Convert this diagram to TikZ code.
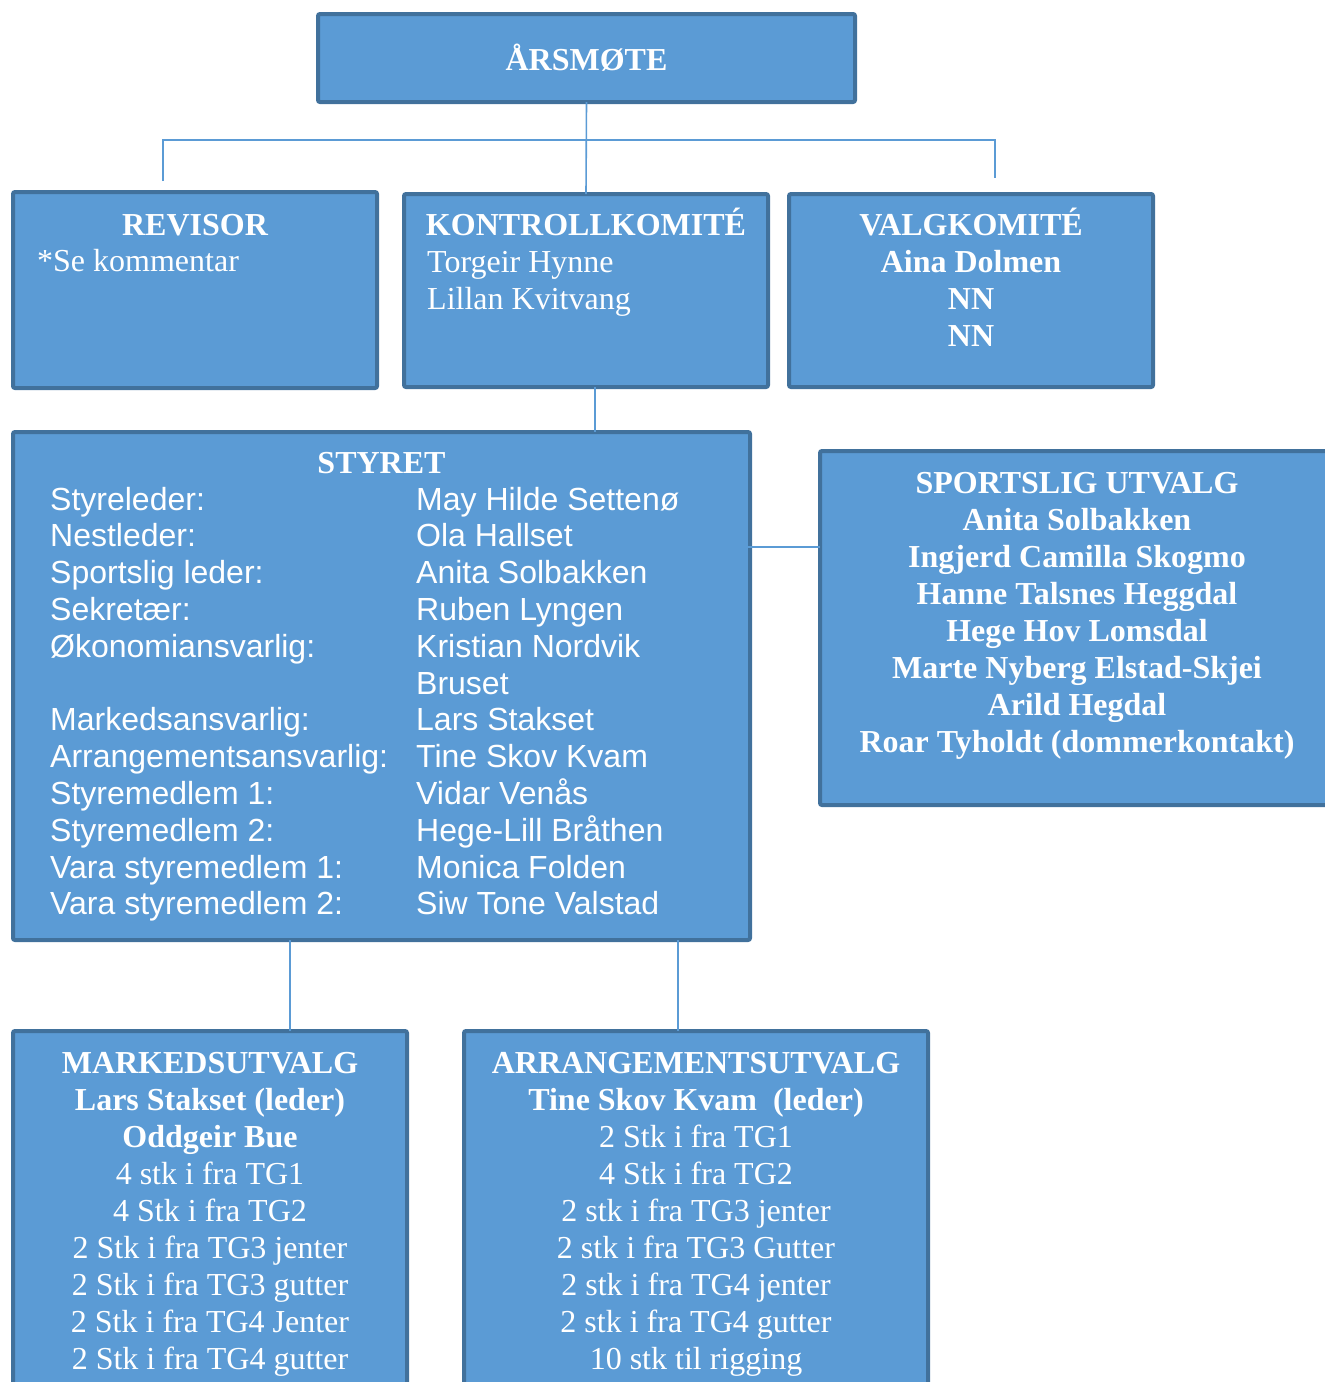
\documentclass[tikz,border=0pt]{standalone}
\usepackage{fontspec}
\setmainfont{Liberation Serif}
\setsansfont{Liberation Sans}
\usetikzlibrary{positioning}
\definecolor{boxfill}{HTML}{5B9BD5}
\definecolor{boxline}{HTML}{41719C}
\definecolor{linkcol}{HTML}{5B9BD5}
\newcommand{\orgsize}{\fontsize{32}{37}\selectfont}

\begin{document}
\begin{tikzpicture}[x=1pt,y=-1pt,
    orgbox/.style={draw=boxline,line width=4pt,fill=boxfill,rounded corners=2pt,
      anchor=north west,inner sep=0pt,outer sep=0pt},
    link/.style={draw=linkcol,line width=1.6pt},
    head/.style={text=white,inner sep=0pt,anchor=base,font=\orgsize\rmfamily\bfseries},
    plain/.style={text=white,inner sep=0pt,anchor=base,font=\orgsize\rmfamily},
    role/.style={text=white,inner sep=0pt,anchor=base west,font=\orgsize\sffamily}]
  \clip (0,0) rectangle (1325,1382);

  % Boxes
  \node[orgbox,minimum width=537pt,minimum height=88pt] (arsmote) at (318,14) {};
  \node[orgbox,minimum width=364pt,minimum height=196pt] (revisor) at (13,192) {};
  \node[orgbox,minimum width=364pt,minimum height=193pt] (kontroll) at (404,194) {};
  \node[orgbox,minimum width=364pt,minimum height=193pt] (valg) at (789,194) {};
  \node[orgbox,minimum width=737pt,minimum height=508pt] (styret) at (13,432) {};
  \node[orgbox,minimum width=514pt,minimum height=354pt] (sport) at (820,451) {};
  \node[orgbox,minimum width=394pt,minimum height=400pt] (markeds) at (13,1031) {};
  \node[orgbox,minimum width=464pt,minimum height=400pt] (arrang) at (464,1031) {};

  % Connectors
  \coordinate (barL) at (163,140);
  \coordinate (barR) at (995,140);
  \coordinate (stubL) at (163,181);
  \coordinate (stubR) at (995,178);
  \draw[link] (arsmote.south) -- (kontroll.north);
  \draw[link] (stubL) -- (barL) -- (barR) -- (stubR);
  \draw[link] ([xshift=9pt]kontroll.south) -- ([xshift=9pt]kontroll.south |- styret.north);
  \coordinate (styR) at (723,547);
  \draw[link] (styR) -- (styR -| sport.west);
  \draw[link] ([xshift=80pt]markeds.north |- styret.south) -- ([xshift=80pt]markeds.north);
  \draw[link] ([xshift=-18pt]arrang.north |- styret.south) -- ([xshift=-18pt]arrang.north);

  % Top
  \node[head] (arsT) at (arsmote.center |- 0,70) {ÅRSMØTE};

  % Revisor, kontrollkomité, valgkomité
  \node[head] (revT) at (revisor.center |- 0,235) {REVISOR};
  \node[plain,anchor=base west] (revK) at (37,271) {*Se kommentar};
  \node[head] (konT) at (kontroll.center |- 0,235) {KONTROLLKOMITÉ};
  \foreach \n/\t in {0/Torgeir Hynne, 1/Lillan Kvitvang}
    \node[plain,anchor=base west] (kon\n) at (427,272+37*\n) {\t};
  \node[head] (valT) at (valg.center |- 0,235) {VALGKOMITÉ};
  \foreach \n/\t in {0/Aina Dolmen, 1/NN, 2/NN}
    \node[head] (val\n) at (971,272+37*\n) {\t};

  % Styret
  \node[head] (styT) at (styret.center |- 0,473) {STYRET};
  \foreach \n/\t in {0/Styreleder:, 1/Nestleder:, 2/Sportslig leder:, 3/Sekretær:,
      4/Økonomiansvarlig:, 6/Markedsansvarlig:, 7/Arrangementsansvarlig:,
      8/Styremedlem 1:, 9/Styremedlem 2:, 10/Vara styremedlem 1:, 11/Vara styremedlem 2:}
    \node[role] (r\n) at (50,510+36.8*\n) {\t};
  \foreach \n/\t in {0/May Hilde Settenø, 1/Ola Hallset, 2/Anita Solbakken, 3/Ruben Lyngen,
      4/Kristian Nordvik, 5/Bruset, 6/Lars Stakset, 7/Tine Skov Kvam, 8/Vidar Venås,
      9/Hege-Lill Bråthen, 10/Monica Folden, 11/Siw Tone Valstad}
    \node[role] (p\n) at (416,510+36.8*\n) {\t};

  % Sportslig utvalg
  \foreach \n/\t in {0/SPORTSLIG UTVALG, 1/Anita Solbakken, 2/Ingjerd Camilla Skogmo,
      3/Hanne Talsnes Heggdal, 4/Hege Hov Lomsdal, 5/Marte Nyberg Elstad-Skjei,
      6/Arild Hegdal, 7/Roar Tyholdt (dommerkontakt)}
    \node[head] (sp\n) at (1077,493+37*\n) {\t};

  % Markedsutvalg
  \foreach \n/\t in {0/MARKEDSUTVALG, 1/Lars Stakset (leder), 2/Oddgeir Bue}
    \node[head] (mk\n) at (210,1073+37*\n) {\t};
  \foreach \n/\t in {3/4 stk i fra TG1, 4/4 Stk i fra TG2, 5/2 Stk i fra TG3 jenter,
      6/2 Stk i fra TG3 gutter, 7/2 Stk i fra TG4 Jenter, 8/2 Stk i fra TG4 gutter}
    \node[plain] (mk\n) at (210,1073+37*\n) {\t};

  % Arrangementsutvalg
  \foreach \n/\t in {0/ARRANGEMENTSUTVALG, 1/Tine Skov Kvam~ (leder)}
    \node[head] (ar\n) at (696,1073+37*\n) {\t};
  \foreach \n/\t in {2/2 Stk i fra TG1, 3/4 Stk i fra TG2, 4/2 stk i fra TG3 jenter,
      5/2 stk i fra TG3 Gutter, 6/2 stk i fra TG4 jenter, 7/2 stk i fra TG4 gutter,
      8/10 stk til rigging}
    \node[plain] (ar\n) at (696,1073+37*\n) {\t};
\end{tikzpicture}
\end{document}
